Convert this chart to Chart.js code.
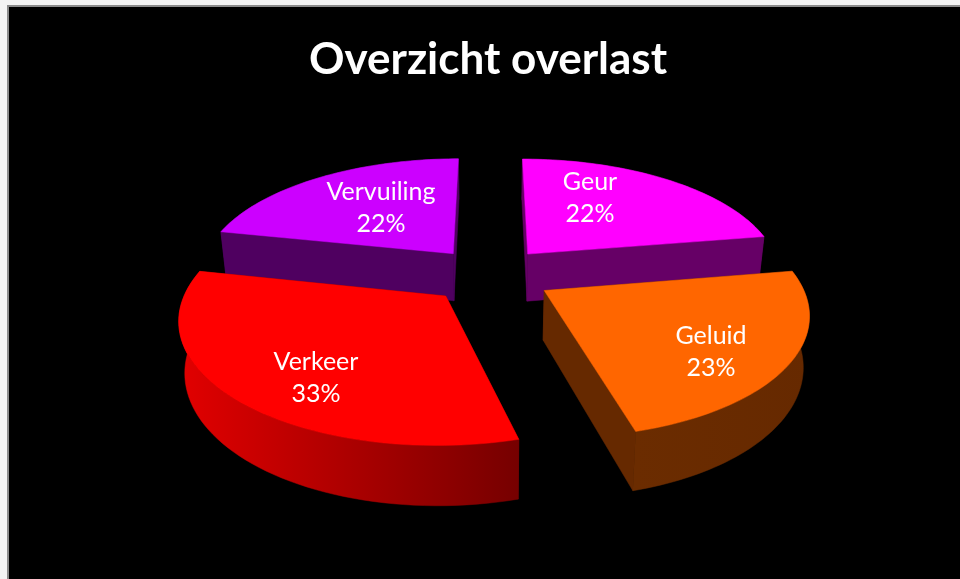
<!DOCTYPE html>
<html>
<head>
<meta charset="utf-8">
<title>Overzicht overlast</title>
<script src="https://cdn.jsdelivr.net/npm/chart.js@4/dist/chart.umd.min.js"></script>
<style>
	html, body { margin: 0; padding: 0; background: #f4f4f4; overflow: hidden; }
	#frame { position: absolute; left: 7px; top: 5px; right: 0; bottom: 0; background: #000; border-left: 2px solid #8c8c8c; border-top: 2px solid #8c8c8c; }
	#myChart { position: absolute; left: 0; top: 0; }
</style>
</head>
<body>
<div id="frame"></div>
<canvas id="myChart" width="960" height="579"></canvas>
<script>
const categories = ["Geur", "Geluid", "Verkeer", "Vervuiling"];
const shares = [22.4, 23.4, 32.5, 21.7];
const topColors = ["#ff00ff", "#ff6600", "#ff0000", "#cc00ff"];
const sideColors = ["#660066", "#662900", "#7a0000", "#4f0060"];
const wallColors = [["#660066", "#660066"], ["#6b2c00", "#662900"], ["#e20000", "#760000"], ["#4f0060", "#4f0060"]];
// back slices first, the front ones paint over them
const drawOrder = [3, 0, 1, 2];
// where the labels sit, the old chart placed them by hand
const labelAnchors = [[590, 198], [711, 352], [316, 378], [381, 208]];

// the tilted view of the pie
const centerX = 490;
const centerY = 274.5;
const tilt = 0.46;
const perspective = 0.00065;
const thickness = 48.5;

function project(x, y, z) {
	const s = 1 / (1 - perspective * y);
	return [centerX + x * s * (1 - 0.0004 * z), centerY + tilt * y * s + z * s];
}

function sliceGeometry(arc) {
	const mid = (arc.startAngle + arc.endAngle) / 2;
	const shift = arc.options.offset / 4;
	const apexX = Math.cos(mid) * shift;
	const apexY = Math.sin(mid) * shift;
	const rim = [];
	const steps = 60;
	for (let i = 0; i <= steps; i++) {
		const a = arc.startAngle + ((arc.endAngle - arc.startAngle) * i) / steps;
		rim.push([apexX + Math.cos(a) * arc.outerRadius, apexY + Math.sin(a) * arc.outerRadius]);
	}
	return { apex: [apexX, apexY], rim: rim };
}

function fillPolygon(ctx, points, fill) {
	ctx.beginPath();
	points.forEach((p, i) => (i ? ctx.lineTo(p[0], p[1]) : ctx.moveTo(p[0], p[1])));
	ctx.closePath();
	ctx.fillStyle = fill;
	ctx.fill();
	ctx.strokeStyle = fill;
	ctx.lineWidth = 0.5;
	ctx.stroke();
}

const tiltedPie = {
	id: "tiltedPie",
	beforeDatasetsDraw(chart) {
		const ctx = chart.ctx;
		const arcs = chart.getDatasetMeta(0).data;
		drawOrder.forEach((index) => {
			const g = sliceGeometry(arcs[index]);
			const first = g.rim[0];
			const last = g.rim[g.rim.length - 1];
			[first, last].forEach((corner) => {
				fillPolygon(ctx, [
					project(g.apex[0], g.apex[1], 0),
					project(corner[0], corner[1], 0),
					project(corner[0], corner[1], thickness),
					project(g.apex[0], g.apex[1], thickness),
				], sideColors[index]);
			});
			const upper = g.rim.map((p) => project(p[0], p[1], 0));
			const lower = g.rim.map((p) => project(p[0], p[1], thickness)).reverse();
			const xs = upper.map((p) => p[0]);
			const wall = ctx.createLinearGradient(Math.min(...xs), 0, Math.max(...xs), 0);
			wall.addColorStop(0, wallColors[index][0]);
			wall.addColorStop(1, wallColors[index][1]);
			fillPolygon(ctx, upper.concat(lower), wall);
			fillPolygon(ctx, [project(g.apex[0], g.apex[1], 0)].concat(upper), topColors[index]);
		});
		return false;
	},
	afterDraw(chart) {
		const ctx = chart.ctx;
		ctx.save();
		ctx.fillStyle = "#fff";
		ctx.font = "25px Lato";
		ctx.textAlign = "center";
		ctx.textBaseline = "middle";
		categories.forEach((name, i) => {
			ctx.fillText(name, labelAnchors[i][0], labelAnchors[i][1] - 16);
			ctx.fillText(Math.round(shares[i]) + "%", labelAnchors[i][0], labelAnchors[i][1] + 16);
		});
		ctx.restore();
	},
};

const ctx = document.getElementById("myChart").getContext("2d");
const myChart = new Chart(ctx, {
	type: "pie",
	plugins: [tiltedPie],
	data: {
		labels: categories,
		datasets: [{ data: shares, backgroundColor: topColors, borderWidth: 0, offset: [240, 252, 250, 240], radius: 254 }],
	},
	options: {
		responsive: false,
		animation: false,
		layout: { padding: { left: 16 } },
		plugins: {
			legend: { display: false },
			tooltip: { enabled: false },
			title: {
				display: true,
				text: "Overzicht overlast",
				color: "#fff",
				font: { family: "Lato", size: 44, weight: "bold" },
				padding: { top: 33, bottom: 10 },
			},
		},
	},
});
</script>
</body>
</html>
